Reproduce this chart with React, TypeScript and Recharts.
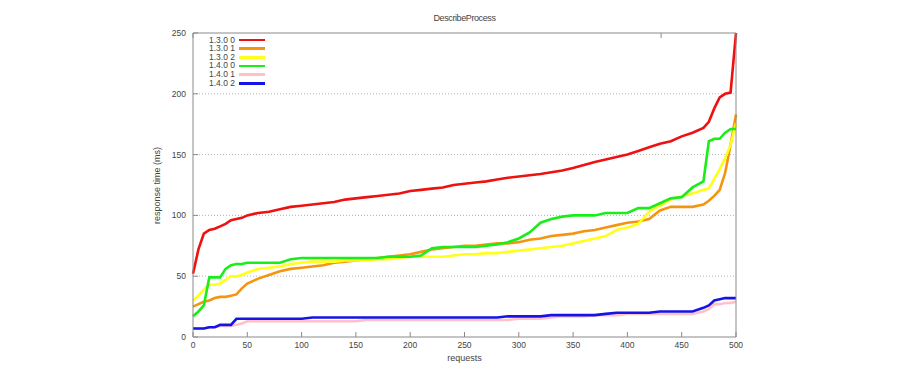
import React from "react";
import { LineChart, Line, XAxis, YAxis, CartesianGrid } from "recharts";

const requests = [
  0, 5, 10, 15, 20, 25, 30, 35, 40, 45, 50, 60, 70, 80, 90, 100, 110, 120, 130,
  140, 150, 160, 170, 180, 190, 200, 210, 220, 230, 240, 250, 260, 270, 280, 290,
  300, 310, 320, 330, 340, 350, 360, 370, 380, 390, 400, 410, 420, 430, 440, 450,
  460, 470, 475, 480, 485, 490, 495, 500,
];

const v130_0 = [
  52, 72, 85, 88, 89, 91, 93, 96, 97, 98, 100, 102, 103, 105, 107, 108, 109, 110,
  111, 113, 114, 115, 116, 117, 118, 120, 121, 122, 123, 125, 126, 127, 128, 129.5,
  131, 132, 133, 134, 135.5, 137, 139, 141.5, 144, 146, 148, 150, 153, 156, 159,
  161, 165, 168, 172, 177, 188, 197, 200, 201, 250,
];
const v130_1 = [
  25, 27, 29, 30, 32, 33, 33, 34, 35, 40, 44, 48, 51, 54, 56, 57, 58, 59, 61, 62,
  63, 64, 65, 66, 67, 68, 70, 72, 73, 74, 75, 75, 76, 77, 77, 78, 80, 81, 83, 84,
  85, 87, 88, 90, 92, 94, 95, 97, 104, 107, 107, 107, 109, 112, 116, 121, 135, 158,
  183,
];
const v130_2 = [
  30, 34, 39, 43, 43, 44, 47, 50, 50, 51, 53, 56, 57, 58, 60, 61, 62, 62, 62, 63,
  63, 63, 64, 64, 65, 66, 66, 66, 66, 67, 68, 68, 69, 69, 70, 71, 72, 73, 74, 75,
  77, 79, 81, 83, 88, 90, 93, 103, 108, 113, 116, 118, 121, 122, 130, 138, 147,
  158, 176,
];
const v140_0 = [
  17, 21, 26, 49, 49, 49, 56, 59, 60, 60, 61, 61, 61, 61, 64, 65, 65, 65, 65, 65,
  65, 65, 65, 66, 66, 66, 67, 73, 74, 74, 74, 74, 75, 76, 78, 81, 86, 94, 97, 99,
  100, 100, 100, 102, 102, 102, 106, 106, 110, 114, 115, 123, 128, 161, 163, 163,
  168, 171, 171,
];
const v140_1 = [
  7, 7, 7, 8, 8, 9, 9, 9, 10, 11, 13, 13, 13, 13, 13, 13, 13, 13, 13, 13, 13, 14,
  14, 14, 14, 14, 14, 14, 14, 14, 14, 14, 14, 14, 14, 15, 15, 15, 16, 17, 17, 17,
  18, 18, 18, 19, 19, 19, 19, 19, 19, 19, 21, 23, 27, 27, 28, 28, 29,
];
const v140_2 = [
  7, 7, 7, 8, 8, 10, 10, 10, 15, 15, 15, 15, 15, 15, 15, 15, 16, 16, 16, 16, 16,
  16, 16, 16, 16, 16, 16, 16, 16, 16, 16, 16, 16, 16, 17, 17, 17, 17, 18, 18, 18,
  18, 18, 19, 20, 20, 20, 20, 21, 21, 21, 21, 24, 26, 30, 31, 32, 32, 32,
];

const xTicks = [0, 50, 100, 150, 200, 250, 300, 350, 400, 450, 500];
const yTicks = [0, 50, 100, 150, 200, 250];

const SERIES = [
  { key: "s1", name: "1.3.0 0", color: "#ee1111", values: v130_0 },
  { key: "s2", name: "1.3.0 1", color: "#f5950f", values: v130_1 },
  { key: "s3", name: "1.3.0 2", color: "#ffff1a", values: v130_2 },
  { key: "s4", name: "1.4.0 0", color: "#1aee1a", values: v140_0 },
  { key: "s5", name: "1.4.0 1", color: "#ffc0c8", values: v140_1 },
  { key: "s6", name: "1.4.0 2", color: "#1414e6", values: v140_2 },
];

const data = requests.map((req, i) => {
  const row: Record<string, number> = { req };
  SERIES.forEach((s) => (row[s.key] = s.values[i]));
  return row;
});

const FONT = "'Liberation Sans', Arial, sans-serif";
const AXIS = "#8a8a8a";
const TEXT = "#444";

const App = () => {
  return (
    <div
      style={{
        position: "absolute",
        left: 0,
        top: 0,
        width: 900,
        height: 370,
        background: "#fff",
        fontFamily: FONT,
        color: TEXT,
      }}
    >
      <LineChart
        width={900}
        height={370}
        data={data}
        margin={{ top: 32, right: 163, bottom: 3, left: 143 }}
      >
        <CartesianGrid
          xAxisId="bottom"
          yAxisId="left"
          vertical={false}
          stroke="#b5b5b5"
          strokeDasharray="1 2"
          horizontalValues={[50, 100, 150, 200]}
        />
        <XAxis
          xAxisId="bottom"
          dataKey="req"
          type="number"
          domain={[0, 500]}
          ticks={xTicks}
          interval={0}
          height={30}
          tickSize={-5}
          tickMargin={10}
          stroke={AXIS}
          tick={{ fill: TEXT, fontSize: 8.5, fontFamily: FONT }}
        />
        {/* mirrored border + ticks on top and right, gnuplot style */}
        <XAxis
          xAxisId="top"
          orientation="top"
          type="number"
          domain={[0, 500]}
          ticks={xTicks}
          interval={0}
          height={1}
          tickSize={-5}
          stroke={AXIS}
          tickFormatter={() => ""}
        />
        <YAxis
          yAxisId="left"
          type="number"
          domain={[0, 250]}
          ticks={yTicks}
          interval={0}
          width={50}
          tickSize={-5}
          tickMargin={12}
          stroke={AXIS}
          tick={{ fill: TEXT, fontSize: 8.5, fontFamily: FONT }}
        />
        <YAxis
          yAxisId="right"
          orientation="right"
          type="number"
          domain={[0, 250]}
          ticks={yTicks}
          interval={0}
          width={1}
          tickSize={-5}
          stroke={AXIS}
          tickFormatter={() => ""}
        />
        {SERIES.map((s) => (
          <Line
            key={s.key}
            xAxisId="bottom"
            yAxisId="left"
            dataKey={s.key}
            name={s.name}
            stroke={s.color}
            strokeWidth={2.6}
            dot={false}
            activeDot={false}
            type="linear"
            isAnimationActive={false}
          />
        ))}
      </LineChart>

      {/* title + axis labels */}
      <div
        style={{
          position: "absolute",
          top: 13,
          left: 193,
          width: 543,
          textAlign: "center",
          fontSize: 9,
          letterSpacing: -0.4,
          lineHeight: "11px",
        }}
      >
        DescribeProcess
      </div>
      <div
        style={{
          position: "absolute",
          top: 353,
          left: 193,
          width: 543,
          textAlign: "center",
          fontSize: 9,
          lineHeight: "11px",
        }}
      >
        requests
      </div>
      <div
        style={{
          position: "absolute",
          left: 157,
          top: 185,
          width: 140,
          marginLeft: -70,
          marginTop: -5.5,
          textAlign: "center",
          fontSize: 9,
          lineHeight: "11px",
          transform: "rotate(-90deg)",
        }}
      >
        response time (ms)
      </div>

      {/* legend */}
      <div style={{ position: "absolute", left: 186, top: 35.7 }}>
        {SERIES.map((s) => (
          <div
            key={s.key}
            style={{
              display: "flex",
              alignItems: "center",
              height: 8.66,
              fontSize: 8.5,
            }}
          >
            <span style={{ width: 49, textAlign: "right", lineHeight: "9px" }}>
              {s.name}
            </span>
            <span
              style={{
                width: 26,
                height: 2.5,
                marginLeft: 4,
                background: s.color,
              }}
            />
          </div>
        ))}
      </div>
    </div>
  );
};

export default App;
